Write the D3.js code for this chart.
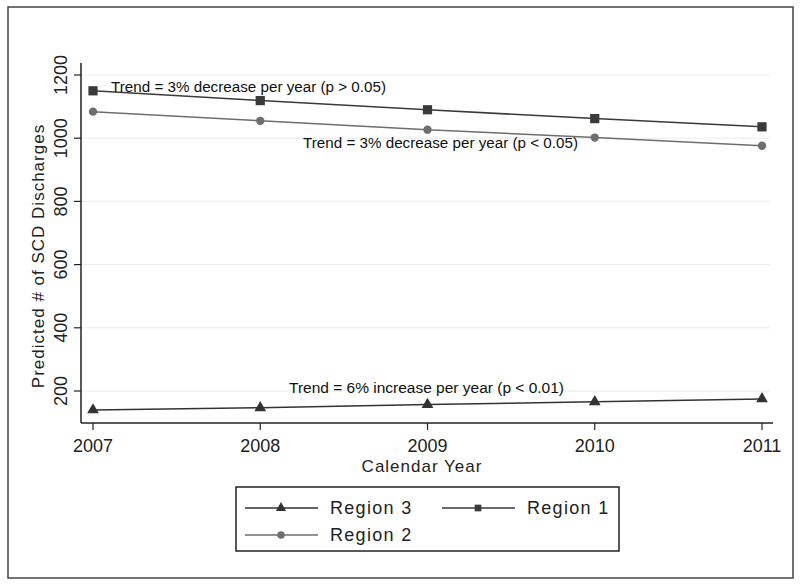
<!DOCTYPE html>
<html><head><meta charset="utf-8">
<script src="https://cdn.jsdelivr.net/npm/d3@7"></script>
<style>body{margin:0;background:#fff}svg{display:block}text{font-family:"Liberation Sans",Arial,sans-serif}</style>
</head><body><svg id="c" width="800" height="585"></svg>
<script>
const years = [2007, 2008, 2009, 2010, 2011];
const region1 = [1150, 1119, 1090, 1062, 1036];
const region2 = [1084, 1055, 1027, 1002, 976];
const region3 = [140, 147, 157, 166, 175];
const yTicks = [200, 400, 600, 800, 1000, 1200];
const annotations = [
  {text: "Trend = 3% decrease per year (p > 0.05)", year: 2007, value: 1150},
  {text: "Trend = 3% decrease per year (p < 0.05)", year: 2009, value: 1000},
  {text: "Trend = 6% increase per year (p < 0.01)", year: 2009, value: 190}
];

const svg = d3.select("#c");
const x = d3.scaleLinear().domain([2007, 2011]).range([93, 762]);
const y = d3.scaleLinear().domain([200, 1200]).range([391, 75]);

svg.append("rect").attr("x", 8).attr("y", 7).attr("width", 785).attr("height", 571)
  .attr("fill", "none").attr("stroke", "#444").attr("stroke-width", 1.5);

svg.append("g").selectAll("line").data(yTicks).join("line")
  .attr("x1", 82).attr("x2", 770).attr("y1", d => y(d)).attr("y2", d => y(d))
  .attr("stroke", "#ebebeb").attr("stroke-width", 1);

svg.append("line").attr("x1", 81).attr("x2", 81).attr("y1", 63).attr("y2", 423).attr("stroke", "#222").attr("stroke-width", 1.5);
svg.append("line").attr("x1", 81).attr("x2", 773).attr("y1", 423).attr("y2", 423).attr("stroke", "#222").attr("stroke-width", 1.5);

const yg = svg.append("g");
yg.selectAll("line").data(yTicks).join("line")
  .attr("x1", 74).attr("x2", 81).attr("y1", d => y(d)).attr("y2", d => y(d)).attr("stroke", "#222").attr("stroke-width", 1.2);
yg.selectAll("text").data(yTicks).join("text")
  .attr("transform", d => `translate(67,${y(d)}) rotate(-90)`)
  .attr("text-anchor", "middle").attr("font-size", 18).attr("fill", "#222")
  .text(d => d);

const xg = svg.append("g");
xg.selectAll("line").data(years).join("line")
  .attr("x1", d => x(d)).attr("x2", d => x(d)).attr("y1", 423).attr("y2", 430).attr("stroke", "#222").attr("stroke-width", 1.2);
xg.selectAll("text").data(years).join("text")
  .attr("x", d => x(d)).attr("y", 452).attr("text-anchor", "middle").attr("font-size", 18).attr("fill", "#222")
  .text(d => d);

svg.append("text").attr("x", 422).attr("y", 472).attr("text-anchor", "middle").attr("font-size", 17)
  .attr("letter-spacing", 1).attr("fill", "#222").text("Calendar Year");
svg.append("text").attr("transform", "translate(44,256) rotate(-90)").attr("text-anchor", "middle")
  .attr("font-size", 17).attr("letter-spacing", 1).attr("fill", "#222").text("Predicted # of SCD Discharges");

const series = [
  {name: "Region 3", vals: region3, color: "#333", marker: "triangle"},
  {name: "Region 1", vals: region1, color: "#3a3a3a", marker: "square"},
  {name: "Region 2", vals: region2, color: "#6e6e6e", marker: "circle"}
];
const sym = {triangle: d3.symbolTriangle, square: d3.symbolSquare, circle: d3.symbolCircle};
const size = {triangle: 60, square: 85, circle: 55};
const line = d3.line().x((d, i) => x(years[i])).y(d => y(d));

series.forEach(s => {
  svg.append("path").attr("d", line(s.vals)).attr("fill", "none").attr("stroke", s.color).attr("stroke-width", 1.5);
  svg.append("g").selectAll("path").data(s.vals).join("path")
    .attr("transform", (d, i) => `translate(${x(years[i])},${y(d)})`)
    .attr("d", d3.symbol().type(sym[s.marker]).size(size[s.marker]))
    .attr("fill", s.color);
});

const annPos = [[111, 92], [303, 148], [289, 393]];
svg.append("g").selectAll("text").data(annotations).join("text")
  .attr("x", (d, i) => annPos[i][0]).attr("y", (d, i) => annPos[i][1])
  .attr("font-size", 14).attr("fill", "#111")
  .attr("textLength", 275).attr("lengthAdjust", "spacingAndGlyphs")
  .text(d => d.text);

svg.append("rect").attr("x", 236).attr("y", 487).attr("width", 383).attr("height", 64)
  .attr("fill", "#fff").attr("stroke", "#222").attr("stroke-width", 1.5);
const legPos = [[245, 508], [442, 508], [245, 535]];
series.forEach((s, i) => {
  const [lx, ly] = legPos[i];
  svg.append("line").attr("x1", lx).attr("x2", lx + 73).attr("y1", ly).attr("y2", ly).attr("stroke", s.color).attr("stroke-width", 1.5);
  svg.append("path").attr("transform", `translate(${lx + 36},${ly})`)
    .attr("d", d3.symbol().type(sym[s.marker]).size(45)).attr("fill", s.color);
  svg.append("text").attr("x", lx + 85).attr("y", ly + 6).attr("font-size", 18).attr("letter-spacing", 1.3)
    .attr("fill", "#222").text(s.name);
});
</script></body></html>
